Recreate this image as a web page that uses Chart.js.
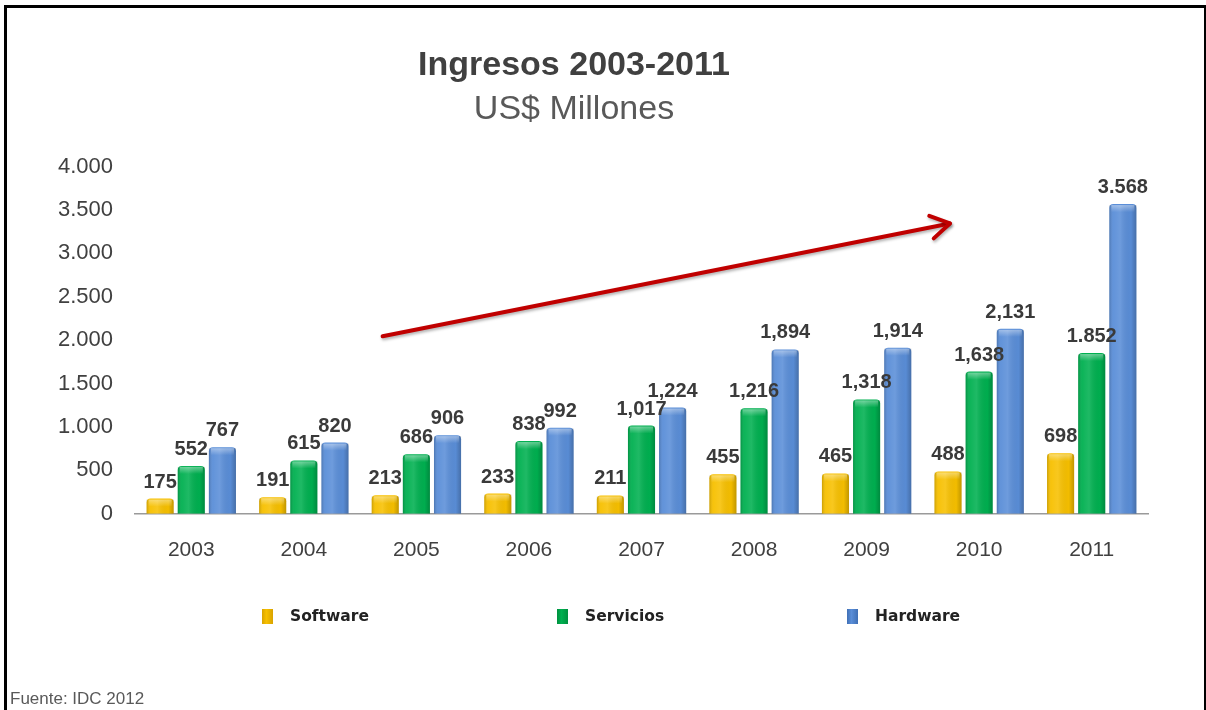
<!DOCTYPE html>
<html lang="es">
<head>
    <meta charset="UTF-8">
    <title>Ingresos 2003-2011</title>
    <script src="https://cdn.jsdelivr.net/npm/chart.js"></script>
    <style>
        body {
            margin: 0;
            background: #ffffff;
            font-family: "Liberation Sans", Arial, sans-serif;
        }
        .page {
            position: relative;
            width: 1206px;
            height: 710px;
            overflow: hidden;
        }
        .marco {
            position: absolute;
            left: 4px;
            top: 5px;
            width: 1197px;
            height: 720px;
            border: 3px solid #000;
            border-bottom: none;
        }
        canvas {
            position: absolute;
            left: 0;
            top: 0;
        }
        .leyenda span {
            position: absolute;
            top: 606px;
            font-family: "DejaVu Sans", Tahoma, sans-serif;
            font-weight: bold;
            font-size: 15.5px;
            color: #222;
            line-height: 20px;
        }
        .leyenda i {
            display: inline-block;
            width: 11px;
            height: 15px;
            margin-right: 17px;
            vertical-align: -3px;
        }
        .fuente {
            position: absolute;
            left: 10px;
            top: 689px;
            font-size: 17px;
            color: #595959;
        }
    </style>
</head>
<body>
<div class="page">
    <div class="marco"></div>
    <canvas id="grafico" width="1206" height="710"></canvas>
    <div class="leyenda" id="leyenda"></div>
    <div class="fuente">Fuente: IDC 2012</div>
</div>

<script>
    // datos
    const anios = ["2003", "2004", "2005", "2006", "2007", "2008", "2009", "2010", "2011"];
    const series = ["Software", "Servicios", "Hardware"];
    const software = [175, 191, 213, 233, 211, 455, 465, 488, 698];
    const servicios = [552, 615, 686, 838, 1017, 1216, 1318, 1638, 1852];
    const hardware = [767, 820, 906, 992, 1224, 1894, 1914, 2131, 3568];
    // etiquetas tal como aparecen (mezcla de coma y punto)
    const etiquetasSoftware = ["175", "191", "213", "233", "211", "455", "465", "488", "698"];
    const etiquetasServicios = ["552", "615", "686", "838", "1,017", "1,216", "1,318", "1,638", "1.852"];
    const etiquetasHardware = ["767", "820", "906", "992", "1,224", "1,894", "1,914", "2,131", "3.568"];
    const ticksY = ["0", "500", "1.000", "1.500", "2.000", "2.500", "3.000", "3.500", "4.000"];
    // flecha de tendencia (índice de categoría, valor)
    const flechaInicio = [1.70, 2045];
    const flechaFin = [6.74, 3345];

    const colores = ["#F7C000", "#00B050", "#5A8ED8"];
    const bordes = ["#D9A300", "#00903F", "#3F6FB5"];
    const etiquetas = [etiquetasSoftware, etiquetasServicios, etiquetasHardware];

    const fuente = "'Liberation Sans', Arial, sans-serif";

    // leyenda en HTML
    const posLeyenda = [262, 557, 847];
    const leyenda = document.getElementById("leyenda");
    series.forEach((nombre, i) => {
        const s = document.createElement("span");
        s.style.left = posLeyenda[i] + "px";
        s.innerHTML = '<i style="background:linear-gradient(90deg,' + bordes[i] + ',' + colores[i] + ' 40%,' + bordes[i] + ')"></i>' + nombre;
        leyenda.appendChild(s);
    });

    // brillo de las barras
    const brillo = {
        id: "brillo",
        afterDatasetsDraw(chart) {
            const ctx = chart.ctx;
            chart.data.datasets.forEach((ds, d) => {
                chart.getDatasetMeta(d).data.forEach(bar => {
                    const x0 = bar.x - bar.width / 2;
                    const w = bar.width;
                    const h = bar.base - bar.y;
                    const g = ctx.createLinearGradient(x0, 0, x0 + w, 0);
                    g.addColorStop(0, "rgba(0,0,0,0.18)");
                    g.addColorStop(0.15, "rgba(255,255,255,0.05)");
                    g.addColorStop(0.4, "rgba(255,255,255,0.12)");
                    g.addColorStop(0.8, "rgba(0,0,0,0.02)");
                    g.addColorStop(1, "rgba(0,0,0,0.22)");
                    ctx.save();
                    ctx.fillStyle = g;
                    ctx.fillRect(x0, bar.y + 1, w, h - 1);
                    const t = ctx.createLinearGradient(0, bar.y, 0, bar.y + 8);
                    t.addColorStop(0, "rgba(255,255,255,0.45)");
                    t.addColorStop(1, "rgba(255,255,255,0)");
                    ctx.fillStyle = t;
                    ctx.fillRect(x0 + 2, bar.y + 1, w - 4, Math.min(8, h - 1));
                    ctx.restore();
                });
            });
        }
    };

    // valores encima de las barras
    const valores = {
        id: "valores",
        afterDatasetsDraw(chart) {
            const ctx = chart.ctx;
            ctx.save();
            ctx.font = "bold 20px " + fuente;
            ctx.fillStyle = "#3A3A3A";
            ctx.textAlign = "center";
            ctx.textBaseline = "alphabetic";
            chart.data.datasets.forEach((ds, d) => {
                chart.getDatasetMeta(d).data.forEach((bar, i) => {
                    ctx.fillText(etiquetas[d][i], bar.x, bar.y - 11);
                });
            });
            ctx.restore();
        }
    };

    // flecha roja
    const flecha = {
        id: "flecha",
        afterDraw(chart) {
            const sx = chart.scales.x, sy = chart.scales.y;
            const x1 = sx.getPixelForValue(flechaInicio[0]), y1 = sy.getPixelForValue(flechaInicio[1]);
            const x2 = sx.getPixelForValue(flechaFin[0]), y2 = sy.getPixelForValue(flechaFin[1]);
            const ang = Math.atan2(y2 - y1, x2 - x1);
            const ctx = chart.ctx;
            ctx.save();
            ctx.strokeStyle = "#C00000";
            ctx.lineWidth = 4;
            ctx.lineCap = "round";
            ctx.lineJoin = "round";
            ctx.shadowColor = "rgba(0,0,0,0.3)";
            ctx.shadowBlur = 3;
            ctx.shadowOffsetX = 1;
            ctx.shadowOffsetY = 2;
            ctx.beginPath();
            ctx.moveTo(x1, y1);
            ctx.lineTo(x2, y2);
            ctx.stroke();
            ctx.beginPath();
            ctx.moveTo(x2 - 22 * Math.cos(ang - 0.55), y2 - 22 * Math.sin(ang - 0.55));
            ctx.lineTo(x2, y2);
            ctx.lineTo(x2 - 22 * Math.cos(ang + 0.55), y2 - 22 * Math.sin(ang + 0.55));
            ctx.stroke();
            ctx.restore();
        }
    };

    const datos = [software, servicios, hardware];
    new Chart(document.getElementById("grafico"), {
        type: "bar",
        data: {
            labels: anios,
            datasets: series.map((nombre, i) => ({
                label: nombre,
                data: datos[i],
                backgroundColor: colores[i],
                borderColor: bordes[i],
                borderWidth: 0,
                borderRadius: { topLeft: 4, topRight: 4 },
                borderSkipped: "bottom",
                categoryPercentage: 0.83,
                barPercentage: 0.87
            }))
        },
        options: {
            responsive: false,
            animation: false,
            devicePixelRatio: 1,
            layout: {
                padding: { left: 0, right: 58, top: 0, bottom: 123 }
            },
            plugins: {
                legend: { display: false },
                tooltip: { enabled: false },
                title: {
                    display: true,
                    text: "Ingresos 2003-2011",
                    color: "#404040",
                    font: { family: fuente, size: 34, weight: "bold" },
                    padding: { top: 45, bottom: 3 }
                },
                subtitle: {
                    display: true,
                    text: "US$ Millones",
                    color: "#595959",
                    font: { family: fuente, size: 34, weight: "normal" },
                    padding: { top: 0, bottom: 37 }
                }
            },
            scales: {
                x: {
                    grid: { display: false, drawTicks: false },
                    border: { display: true, color: "#9A9A9A", width: 1.5 },
                    ticks: {
                        color: "#404040",
                        padding: 24,
                        font: { family: fuente, size: 21 }
                    }
                },
                y: {
                    min: 0,
                    max: 4000,
                    afterFit(scale) { scale.width = 135; },
                    grid: { display: false, drawTicks: false },
                    border: { display: false },
                    ticks: {
                        stepSize: 500,
                        color: "#404040",
                        padding: 22,
                        font: { family: fuente, size: 22 },
                        callback: (v, i) => ticksY[i]
                    }
                }
            }
        },
        plugins: [brillo, valores, flecha]
    });
</script>
</body>
</html>
